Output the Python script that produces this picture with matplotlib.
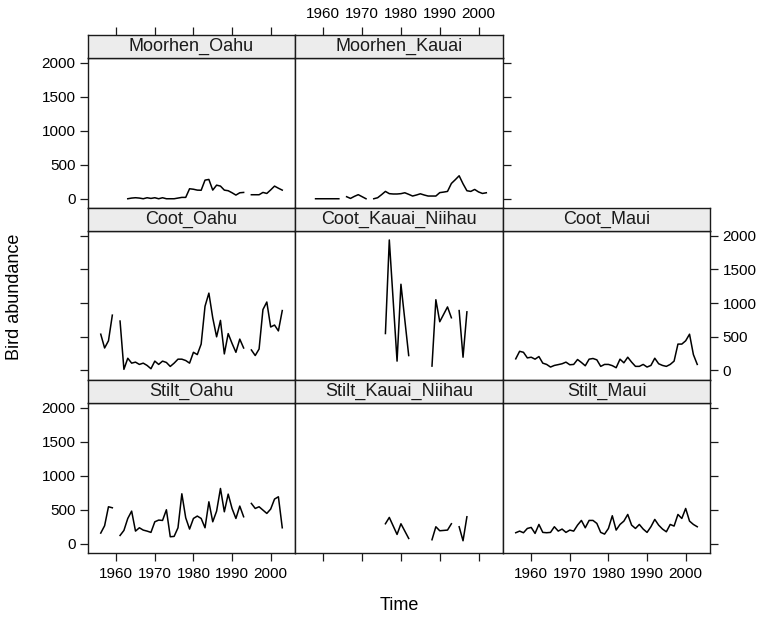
import numpy as np
import matplotlib
matplotlib.use("Agg")
import matplotlib.pyplot as plt

plt.rcParams['font.family'] = ['Liberation Sans', 'DejaVu Sans']

# ---- data ----
moorhen_oahu_years = list(range(1963, 2004))
moorhen_oahu = [0, 10, 15, 10, 0, 15, 5, 15, 0, 15, 0, 0, 0, 10, 20, 20,
                147, 140, 127, 125, 274, 284, 127, 200, 186, 127, 118, 88, 54, 88, 93,
                None, 59, 59, 59, 93, 78, 130, 186, 155, 127]

moorhen_kauai_years = list(range(1958, 2003))
moorhen_kauai = [0, 0, 0, 0, 0, 0, 0, None, 30, 5, 35, 60, 30, 0, None,
                 0, 15, 60, 108, 75, 70, 70, 75, 88, 65, 40, 55, 73, 55, 40, 40, 40,
                 90, 98, 108, 225, 280, 338, 220, 118, 108, 137, 100, 78, 88]

coot_oahu_years = list(range(1956, 2004))
coot_oahu = [537, 332, 439, 820, None,
             732, 15, 180, 107, 122, 88, 107, 73, 24, 137, 88, 137, 117, 58, 107, 166, 166,
             146, 107, 268, 234, 390, 952, 1147, 780, 498, 742, 244, 546, 400, 268, 464, 332,
             None, 303, 220, 317, 903, 1015, 644, 673, 586, 888]

coot_kn_years = [1976, 1977, 1979, 1980, 1982, 1985, 1988, 1989, 1990, 1992, 1993,
                 1994, 1995, 1996, 1997]
coot_kn = [547, 1937, 137, 1279, 220, None, 63, 1049, 722, 942, 781,
           None, 888, 195, 869]

coot_maui_years = list(range(1956, 2004))
coot_maui = [171, 283, 268, 185, 195, 166, 205, 107, 88, 49, 73, 85, 98, 122, 83, 88,
             161, 117, 68, 166, 176, 156, 59, 88, 88, 70, 39, 166, 112, 195, 122, 59,
             59, 88, 49, 73, 180, 98, 73, 59, 88, 137, 390, 390, 439, 537, 234, 88]

stilt_oahu_years = list(range(1956, 2004))
stilt_oahu = [157, 265, 544, 529, None,
              122, 196, 372, 480, 186, 235, 201, 186, 167, 323, 348, 343, 500, 103, 108,
              235, 735, 382, 216, 372, 407, 372, 235, 617, 323, 480, 813, 470, 730, 519,
              372, 554, 397, None, 593, 519, 544, 495, 446, 510, 657, 691, 235]

stilt_kn_years = [1976, 1977, 1979, 1980, 1982, 1985, 1988, 1989, 1990, 1992, 1993,
                  1994, 1995, 1996, 1997]
stilt_kn = [294, 387, 137, 294, 78, None, 59, 250, 191, 201, 294,
            None, 250, 44, 397]

stilt_maui_years = list(range(1956, 2004))
stilt_maui = [162, 186, 162, 225, 240, 152, 284, 167, 162, 167, 250, 186, 216, 167,
              201, 186, 274, 343, 235, 343, 343, 299, 167, 142, 225, 412, 201, 284, 333,
              431, 274, 225, 284, 216, 167, 250, 358, 274, 216, 176, 284, 260, 431, 372,
              519, 333, 284, 250]

x_ticks = [1960, 1970, 1980, 1990, 2000]
y_ticks = [0, 500, 1000, 1500, 2000]

# ---- layout ----
W, H = 763, 617
fig = plt.figure(figsize=(W / 100, H / 100), dpi=100)


def box(x0, y0, x1, y1):
    return [x0 / W, 1 - y1 / H, (x1 - x0) / W, (y1 - y0) / H]


cols = [(88, 295), (295, 503), (503, 710)]
rows = [(35, 58, 208), (208, 231, 379.5), (380, 403, 553)]

# (row, col, title, years, values, left, right, bottom, top)
panels = [
    (0, 0, "Moorhen_Oahu", moorhen_oahu_years, moorhen_oahu, 'labels', None, None, 'ticks'),
    (0, 1, "Moorhen_Kauai", moorhen_kauai_years, moorhen_kauai, None, 'ticks', None, 'labels'),
    (1, 0, "Coot_Oahu", coot_oahu_years, coot_oahu, 'ticks', None, None, None),
    (1, 1, "Coot_Kauai_Niihau", coot_kn_years, coot_kn, None, None, None, None),
    (1, 2, "Coot_Maui", coot_maui_years, coot_maui, None, 'labels', None, None),
    (2, 0, "Stilt_Oahu", stilt_oahu_years, stilt_oahu, 'labels', None, 'labels', None),
    (2, 1, "Stilt_Kauai_Niihau", stilt_kn_years, stilt_kn, None, None, 'ticks', None),
    (2, 2, "Stilt_Maui", stilt_maui_years, stilt_maui, None, 'ticks', 'labels', None),
]

XLIM = (1952.7, 2006.3)
YLIM = (-136, 2070)
frame = '#1a1a1a'

for r, c, title, yrs, vals, left, right, bottom, top in panels:
    x0, x1 = cols[c]
    ys, yp, yb = rows[r]
    ax = fig.add_axes(box(x0, yp, x1, yb))
    v = np.array([np.nan if q is None else q for q in vals], dtype=float)
    ax.plot(yrs, v, color='black', lw=1.1)
    ax.set_xlim(*XLIM)
    ax.set_ylim(*YLIM)
    ax.set_xticks(x_ticks)
    ax.set_yticks(y_ticks)
    for s in ax.spines.values():
        s.set_color(frame)
        s.set_linewidth(1.0)
    ax.tick_params(direction='out', length=5.5, width=0.9, color=frame,
                   labelsize=11,
                   left=left is not None, labelleft=left == 'labels',
                   right=right is not None, labelright=right == 'labels',
                   bottom=bottom is not None, labelbottom=bottom == 'labels',
                   top=False, labeltop=False)
    ax.tick_params(axis='x', pad=4.5)
    ax.tick_params(axis='y', pad=3.5)

    # strip
    sx = fig.add_axes(box(x0, ys, x1, yp))
    sx.set_facecolor('#ececec')
    sx.set_xlim(*XLIM)
    sx.set_ylim(0, 1)
    sx.set_xticks(x_ticks)
    sx.set_yticks([])
    for s in sx.spines.values():
        s.set_color(frame)
        s.set_linewidth(1.0)
    sx.tick_params(direction='out', length=5.5, width=0.9, color=frame,
                   labelsize=11, pad=4.5,
                   bottom=False, labelbottom=False,
                   top=top is not None, labeltop=top == 'labels')
    sx.text(0.5, 0.5, title, transform=sx.transAxes, ha='center', va='center',
            fontsize=13, color='#1a1a1a')

fig.text(15 / W, 1 - 297 / H, "Bird abundance", rotation=90,
         ha='center', va='center', fontsize=13)
fig.text(399 / W, 1 - 606 / H, "Time", ha='center', va='center', fontsize=13)

fig.savefig("out.png", dpi=100)
